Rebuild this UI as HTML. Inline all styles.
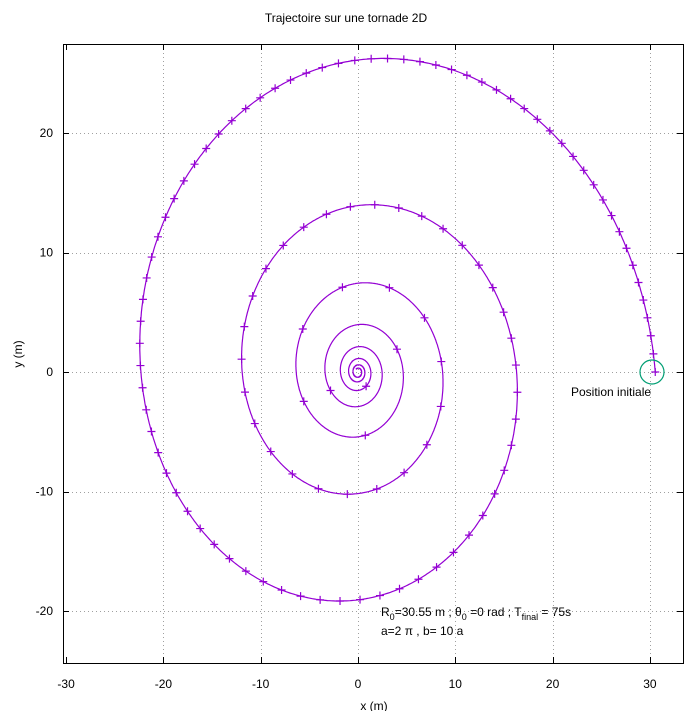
<!DOCTYPE html>
<html><head><meta charset="utf-8"><style>
body{margin:0;background:#fff}
svg text{font-family:"Liberation Sans","DejaVu Sans",sans-serif;font-size:12px;fill:#000}
</style></head><body>
<svg id="s" width="692" height="711" xmlns="http://www.w3.org/2000/svg">
<rect width="692" height="711" fill="#fff"/>
<text x="346" y="22" text-anchor="middle">Trajectoire sur une tornade 2D</text>
<g id="grid" stroke="#a0a0a0" stroke-dasharray="1,3" stroke-width="1"></g>
<g id="ticks" stroke="#000" stroke-width="1"></g>
<rect x="63.5" y="44.5" width="620" height="619" fill="none" stroke="#000"/>
<g id="labels"></g>
<text x="374" y="710" text-anchor="middle">x (m)</text>
<text x="22" y="354" text-anchor="middle" transform="rotate(-90 22 354)">y (m)</text>
<path id="curve" fill="none" stroke="#9400d3" stroke-width="1.2"/>
<g id="marks" stroke="#9400d3" stroke-width="1.2"></g>
<circle cx="652" cy="372" r="12" fill="none" stroke="#009e73" stroke-width="1.2"/>
<text x="571" y="396">Position initiale</text>
<text x="381" y="616">R<tspan font-size="9" dy="4">0</tspan><tspan dy="-4">=30.55 m ; θ</tspan><tspan font-size="9" dy="4">0</tspan><tspan dy="-4"> =0 rad ; T</tspan><tspan font-size="9" dy="4">final</tspan><tspan dy="-4"> = 75s</tspan></text>
<text x="381" y="635">a=2 π , b= 10 a</text>
</svg>
<script>
var NS="http://www.w3.org/2000/svg";
function X(v){return 358+v*9.73}function Y(v){return 372-v*11.95}
function el(p,t,a){var e=document.createElementNS(NS,t);for(var k in a)e.setAttribute(k,a[k]);document.getElementById(p).appendChild(e);return e}
for(var v=-30;v<=30;v+=10){var x=Math.round(X(v))+.5;
 if(v>-30&&v<40)el("grid","line",{x1:x,y1:45,x2:x,y2:663});
 el("ticks","line",{x1:x,y1:663,x2:x,y2:657});el("ticks","line",{x1:x,y1:44,x2:x,y2:50});
 var t=el("labels","text",{x:X(v),y:688,"text-anchor":"middle"});t.textContent=v;}
for(var v=-20;v<=20;v+=10){var y=Math.round(Y(v))+.5;
 el("grid","line",{x1:64,y1:y,x2:683,y2:y});
 el("ticks","line",{x1:63,y1:y,x2:69,y2:y});el("ticks","line",{x1:683,y1:y,x2:677,y2:y});
 var t=el("labels","text",{x:53,y:Y(v)+4,"text-anchor":"end"});t.textContent=v;}
var k=0.1,R=30.55,p=1.65,c=0.05*Math.pow(R,p);
function P(th){var r=R*Math.exp(-k*th);return [X(r*Math.cos(th)),Y(r*Math.sin(th)),r]}
var d="";
for(var th=0;;th+=0.01){var q=P(th);if(q[2]<0.3)break;d+=(d?"L":"M")+q[0].toFixed(1)+" "+q[1].toFixed(1);}
document.getElementById("curve").setAttribute("d",d);
th=0;
while(true){var q=P(th),r=q[2];if(r<0.3)break;
 var px=q[0],py=q[1];
 el("marks","path",{d:"M"+(px-4)+" "+py+"H"+(px+4)+"M"+px+" "+(py-4)+"V"+(py+4)});
 th+=c*Math.pow(r,-p)*Math.pow(Math.max(1,10/r),1.2);}
</script>
</body></html>
